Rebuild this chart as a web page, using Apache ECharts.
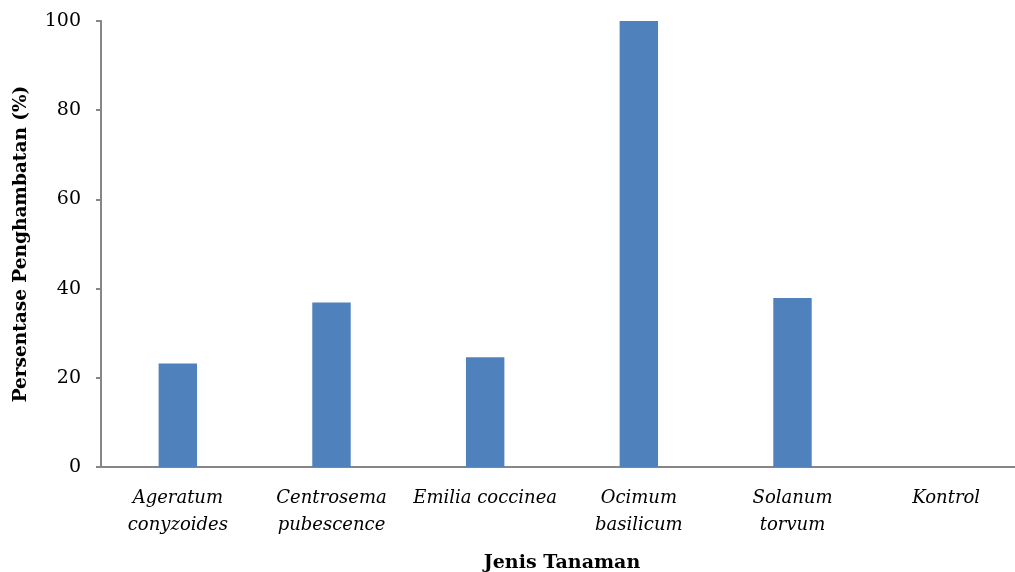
<!DOCTYPE html>
<html>
<head>
<meta charset="utf-8">
<script src="https://cdn.jsdelivr.net/npm/echarts@6/dist/echarts.min.js"></script>
<style>
  html, body { margin: 0; padding: 0; background: #fff; }
  #chart { width: 1015px; height: 572px; }
</style>
</head>
<body>
<div id="chart"></div>
<script>
// data
var categories = ["Ageratum\nconyzoides", "Centrosema\npubescence", "Emilia coccinea", "Ocimum\nbasilicum", "Solanum\ntorvum", "Kontrol"];
var inhibition = [23.2, 36.9, 24.6, 100, 37.9, 0];
var yTicks = { min: 0, max: 100, interval: 20 };

var serif = "DejaVu Serif";
var axisGrey = "#868686";

var chartView = echarts.init(document.getElementById("chart"));
chartView.setOption({
    animation: false,
    grid: { left: 101, top: 21, width: 922, bottom: 105, outerBoundsMode: "none" },   // plot runs past the right edge, as in the picture
    xAxis: {
        type: "category",
        data: categories,
        name: "Jenis Tanaman",
        nameLocation: "middle",
        nameGap: 87,
        nameTextStyle: { fontFamily: serif, fontWeight: "bold", fontSize: 19, color: "#000" },
        axisLine: { lineStyle: { color: axisGrey, width: 2 } },
        axisTick: { show: false },
        axisLabel: { fontFamily: serif, fontStyle: "italic", fontSize: 18, color: "#000", lineHeight: 27, margin: 18, interval: 0 }
    },
    yAxis: {
        type: "value",
        min: yTicks.min, max: yTicks.max, interval: yTicks.interval,
        name: "Persentase Penghambatan (%)",
        nameLocation: "middle",
        nameGap: 70,
        nameTextStyle: { fontFamily: serif, fontWeight: "bold", fontSize: 18.5, color: "#000" },
        axisLine: { show: true, lineStyle: { color: axisGrey, width: 2 } },
        axisTick: { show: true, length: 5, lineStyle: { color: axisGrey, width: 2 } },
        splitLine: { show: false },
        axisLabel: { fontFamily: serif, fontSize: 19, color: "#000", margin: 20 }
    },
    series: [{
        type: "bar",
        data: inhibition,
        barWidth: "25%",
        itemStyle: { color: "#4F81BD" }
    }]
});
</script>
</body>
</html>
